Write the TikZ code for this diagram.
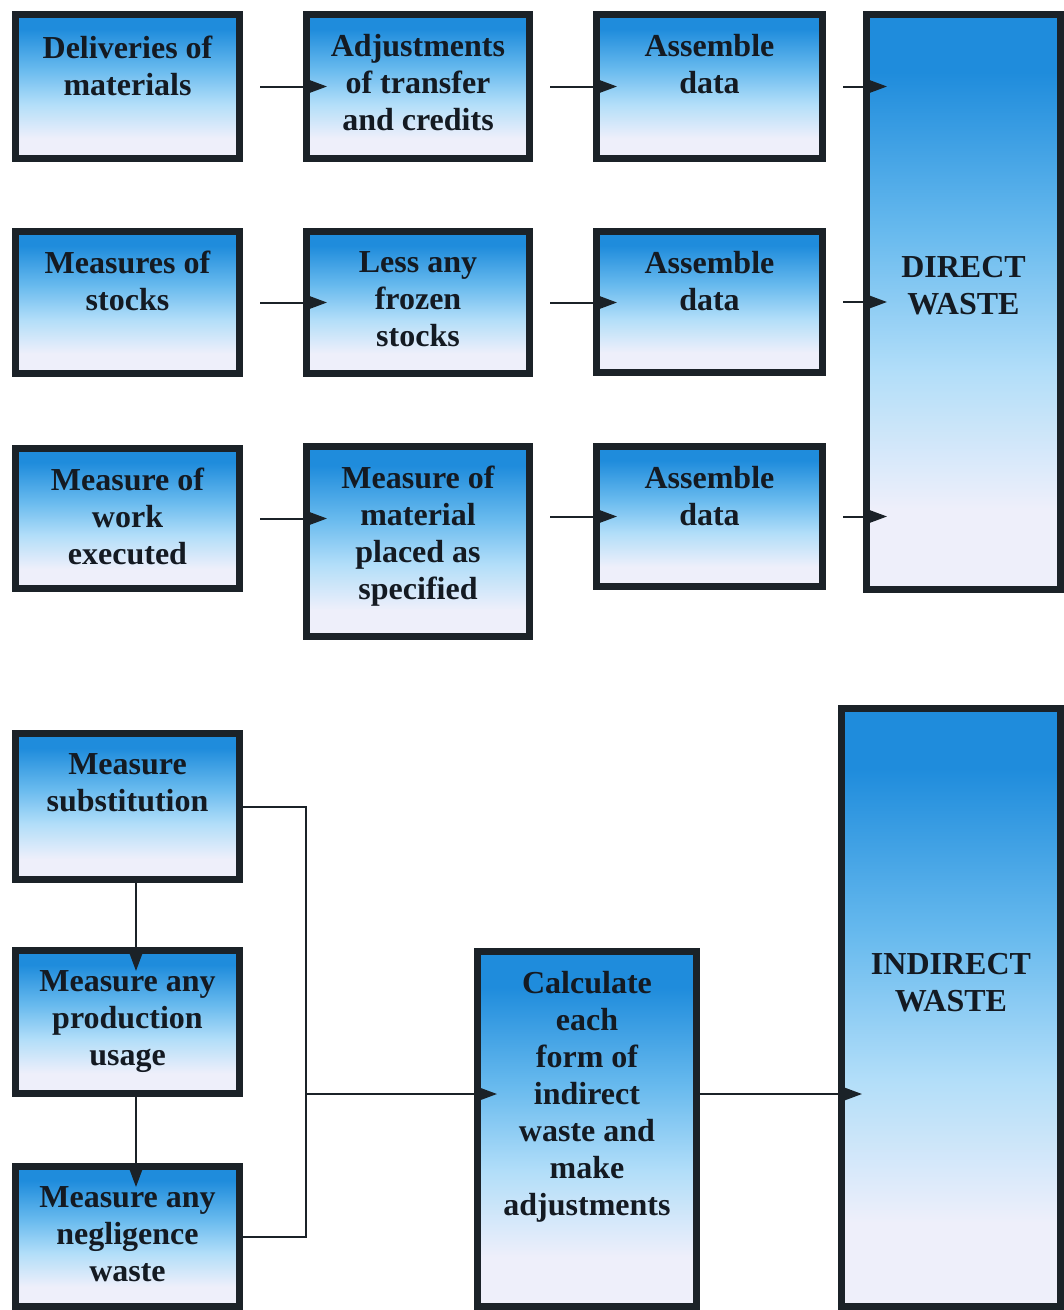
\documentclass[tikz,border=0pt]{standalone}
\usepackage{fontspec}
\setmainfont{Liberation Serif}
\usetikzlibrary{arrows.meta,calc,fit}
\definecolor{bblue}{HTML}{1F8CDC}
\definecolor{bmid}{HTML}{68BAEE}
\definecolor{blight}{HTML}{B2DEF9}
\definecolor{bpale}{HTML}{EEEFFA}
\definecolor{edgec}{HTML}{1B2228}
\definecolor{ink}{HTML}{141A22}
\pgfdeclareverticalshading{wshade}{100bp}{color(0bp)=(bpale); color(25bp)=(bpale); color(32bp)=(bpale); color(44bp)=(blight); color(56bp)=(bmid); color(70bp)=(bblue); color(100bp)=(bblue)}
\begin{document}
\begin{tikzpicture}[x=1pt,y=-1pt,
  box/.style={draw=edgec,line width=7pt,shade,shading=wshade,inner sep=0pt,rectangle},
  lbl/.style={font=\bfseries\fontsize{32}{37}\selectfont,text=ink,align=center,inner sep=0pt,anchor=north},
  conn/.style={draw=edgec,line width=2pt,-{Triangle[length=21pt,width=15pt]}},
  wire/.style={draw=edgec,line width=2pt}]
\useasboundingbox (0,0) rectangle (1064,1310);
\fill[white] (0,0) rectangle (1064,1310);
% boxes
\node[box,fit={(15.5,14.5) (239.5,158.5)}] (d1) {};
\node[box,fit={(306.5,14.5) (529.5,158.5)}] (a1) {};
\node[box,fit={(596.5,14.5) (822.5,158.5)}] (s1) {};
\node[box,fit={(866.5,14.5) (1060.5,589.5)}] (dw) {};
\node[box,fit={(15.5,231.5) (239.5,373.5)}] (d2) {};
\node[box,fit={(306.5,231.5) (529.5,373.5)}] (a2) {};
\node[box,fit={(596.5,231.5) (822.5,372.5)}] (s2) {};
\node[box,fit={(15.5,448.5) (239.5,588.5)}] (d3) {};
\node[box,fit={(306.5,446.5) (529.5,636.5)}] (a3) {};
\node[box,fit={(596.5,446.5) (822.5,586.5)}] (s3) {};
\node[box,fit={(15.5,733.5) (239.5,879.5)}] (sub) {};
\node[box,fit={(15.5,950.5) (239.5,1093.5)}] (prod) {};
\node[box,fit={(15.5,1166.5) (239.5,1306.5)}] (neg) {};
\node[box,fit={(477.5,951.5) (696.5,1306.5)}] (calc) {};
\node[box,fit={(841.5,708.5) (1060.5,1306.5)}] (iw) {};
% texts
\node[lbl] (d1t) at ($(d1.north)+(0,24.5)$) {Deliveries of\\materials};
\node[lbl] (a1t) at ($(a1.north)+(0,23)$) {Adjustments\\of transfer\\and credits};
\node[lbl] (s1t) at ($(s1.north)+(0,23)$) {Assemble\\data};
\node[lbl] (d2t) at ($(d2.north)+(0,23)$) {Measures of\\stocks};
\node[lbl] (a2t) at ($(a2.north)+(0,23)$) {Less any\\frozen\\stocks};
\node[lbl] (s2t) at ($(s2.north)+(0,23)$) {Assemble\\data};
\node[lbl] (d3t) at ($(d3.north)+(0,23)$) {Measure of\\work\\executed};
\node[lbl] (a3t) at ($(a3.north)+(0,23)$) {Measure of\\material\\placed as\\specified};
\node[lbl] (s3t) at ($(s3.north)+(0,23)$) {Assemble\\data};
\node[lbl] (dwt) at (dw.north |- 0,256) {DIRECT\\WASTE};
\node[lbl] (subt) at ($(sub.north)+(0,23)$) {Measure\\substitution};
\node[lbl] (prodt) at ($(prod.north)+(0,23)$) {Measure any\\production\\usage};
\node[lbl] (negt) at ($(neg.north)+(0,23)$) {Measure any\\negligence\\waste};
\node[lbl] (calct) at ($(calc.north)+(0,23)$) {Calculate\\each\\form of\\indirect\\waste and\\make\\adjustments};
\node[lbl] (iwt) at (iw.north |- 0,953) {INDIRECT\\WASTE};
% direct waste connectors
\draw[conn] ($(d1.east)+(17,0)$) -- ($(a1.west |- d1.east)+(24,0)$);
\draw[conn] ($(a1.east)+(17,0)$) -- ($(s1.west |- a1.east)+(24,0)$);
\draw[conn] ($(s1.east)+(17,0)$) -- ($(dw.west |- s1.east)+(24,0)$);
\draw[conn] ($(d2.east)+(17,0)$) -- ($(a2.west |- d2.east)+(24,0)$);
\draw[conn] ($(a2.east)+(17,0)$) -- ($(s2.west |- a2.east)+(24,0)$);
\draw[conn] ($(s2.east)+(17,0)$) -- ($(dw.west |- s2.east)+(24,0)$);
\draw[conn] ($(d3.east)+(17,0)$) -- ($(a3.west |- d3.east)+(24,0)$);
\draw[conn] ($(a3.east |- s3.west)+(17,0)$) -- ($(s3.west)+(24,0)$);
\draw[conn] ($(s3.east)+(17,0)$) -- ($(dw.west |- s3.east)+(24,0)$);
% indirect waste connectors
\coordinate (bus) at (306,1094);
\draw[conn] ($(sub.south)+(8.5,0)$) -- ($(prod.north)+(8.5,24)$);
\draw[conn] ($(prod.south)+(8.5,0)$) -- ($(neg.north)+(8.5,24)$);
\draw[wire] ($(sub.east)+(-5,0)$) -| (bus) |- ($(neg.east)+(-5,0)$);
\draw[conn] (bus) -- ($(calc.west |- bus)+(23,0)$);
\draw[conn] (calc.east |- bus) -- ($(iw.west |- bus)+(24,0)$);
\end{tikzpicture}
\end{document}
